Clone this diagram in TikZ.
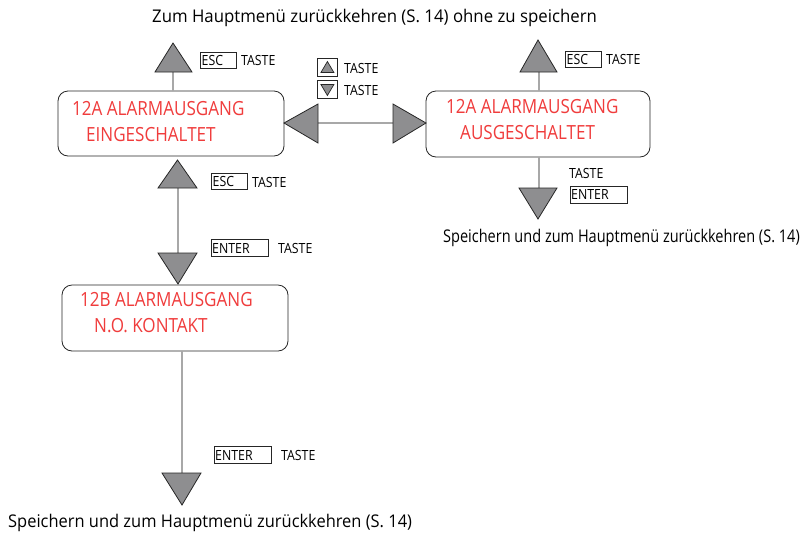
\documentclass[tikz,border=0pt]{standalone}
\usepackage{fontspec}
\usetikzlibrary{calc}
\setmainfont{Open Sans}
\newfontfamily\notefont{Open Sans}[FakeStretch=0.94]
\newfontfamily\headfont{Open Sans}[FakeStretch=0.96]
\newfontfamily\sidefont{Open Sans}[FakeStretch=0.83]
\newfontfamily\screenfont{Open Sans}[FakeStretch=0.875]
\newfontfamily\keyfont{Open Sans}[FakeStretch=0.88]
\definecolor{screenred}{HTML}{F03C3C}
\definecolor{arrowgray}{HTML}{8E8E90}
\definecolor{linegray}{HTML}{A8A8A8}
\tikzset{
  screen/.style={draw=black!85, line width=0.8pt, rounded corners=10pt, fill=white},
  tri/.style={draw=black!85, fill=arrowgray, line width=0.8pt, line join=miter},
  stem/.style={draw=linegray, line width=1.2pt},
  keybox/.style={draw=black!85, line width=0.8pt, inner sep=0pt, anchor=west},
  keytxt/.style={font=\keyfont\fontsize{14}{16}\selectfont, inner sep=0pt, anchor=west},
  redtxt/.style={font=\screenfont\fontsize{19.5}{22}\selectfont, text=screenred, inner sep=0pt, anchor=west},
  note/.style={font=\notefont\fontsize{17.5}{20}\selectfont, inner sep=0pt},
}
\begin{document}
\begin{tikzpicture}[x=1pt,y=-1pt]
\useasboundingbox (0,0) rectangle (803,539);

% top caption
\node[note, font=\headfont\fontsize{17.5}{20}\selectfont, anchor=west] (top) at (152,18) {Zum Hauptmenü zurückkehren (S. 14) ohne zu speichern};

% ---------- screen 12A eingeschaltet ----------
\draw[screen] (58,91) rectangle (284,156);
\node[redtxt] (a1) at (72,109) {12A ALARMAUSGANG};
\node[redtxt] (a2) at (86,135) {EINGESCHALTET};
\coordinate (aN) at (173,91);
\coordinate (aE) at (284,123);
\coordinate (aS) at (178,156);

% ---------- screen 12A ausgeschaltet ----------
\draw[screen] (426,91) rectangle (650,157);
\node[redtxt] (b1) at (446,107) {12A ALARMAUSGANG};
\node[redtxt] (b2) at (460,133) {AUSGESCHALTET};
\coordinate (bN) at (539,91);
\coordinate (bW) at (426,123);
\coordinate (bS) at (539,157);

% ---------- screen 12B ----------
\draw[screen] (62,285) rectangle (288,351);
\node[redtxt] (c1) at (80,300) {12B ALARMAUSGANG};
\node[redtxt] (c2) at (94,326) {N.O. KONTAKT};
\coordinate (cN) at (178,285);
\coordinate (cS) at (182,351);

% ---------- ESC up from 12A ein ----------
\draw[stem] (aN) -- (173,72);
\draw[tri] (155,72) -- (173,43) -- (192,72) -- cycle;
\node[keybox, minimum width=36pt, minimum height=16pt] (k1) at (200,60) {};
\node[keytxt] at (k1.west) {\hspace{1.5pt}ESC};
\node[keytxt] at (241,60) {TASTE};

% ---------- ESC up from 12A aus ----------
\draw[stem] (bN) -- (539,72);
\draw[tri] (520,72) -- (538,40) -- (557,72) -- cycle;
\node[keybox, minimum width=36pt, minimum height=16pt] (k2) at (565,59.5) {};
\node[keytxt] at (k2.west) {\hspace{1.5pt}ESC};
\node[keytxt] at (606,59.5) {TASTE};

% ---------- left / right toggle ----------
\draw[stem] (318,123) -- (393,123);
\draw[tri] (aE) -- (318,104) -- (318,143) -- cycle;
\draw[tri] (bW) -- (393,104) -- (393,143) -- cycle;
\node[keybox, minimum width=20pt, minimum height=18pt] (kup) at (317,67.5) {};
\draw[tri, line width=0.7pt] ($(kup.center)+(-6.5,5)$) -- ($(kup.center)+(0,-6)$) -- ($(kup.center)+(6.5,5)$) -- cycle;
\node[keytxt] at (344,68) {TASTE};
\node[keybox, minimum width=20pt, minimum height=18pt] (kdn) at (317,89.5) {};
\draw[tri, line width=0.7pt] ($(kdn.center)+(-6.5,-5)$) -- ($(kdn.center)+(0,6)$) -- ($(kdn.center)+(6.5,-5)$) -- cycle;
\node[keytxt] at (344,90) {TASTE};

% ---------- ENTER down from 12A aus ----------
\draw[stem] (bS) -- (539,188);
\draw[tri] (519,188) -- (538,219) -- (557,188) -- cycle;
\node[keytxt] at (569,173) {TASTE};
\node[keybox, minimum width=57pt, minimum height=17pt] (k3) at (570,194.5) {};
\node[keytxt] at (k3.west) {\hspace{1pt}ENTER};
\node[note, font=\sidefont\fontsize{17.5}{20}\selectfont, anchor=west] (rb) at (443,238) {Speichern und zum Hauptmenü zurückkehren (S. 14)};

% ---------- ESC up / ENTER down between 12A ein and 12B ----------
\draw[stem] (178,188) -- (178,253);
\draw[tri] (158,188) -- (177.5,160) -- (197,188) -- cycle;
\draw[tri] (158,253) -- (178,284) -- (197,253) -- cycle;
\node[keybox, minimum width=36pt, minimum height=16pt] (k4) at (211,181) {};
\node[keytxt] at (k4.west) {\hspace{1.5pt}ESC};
\node[keytxt] at (252,182) {TASTE};
\node[keybox, minimum width=57pt, minimum height=17pt] (k5) at (211,248) {};
\node[keytxt] at (k5.west) {\hspace{1pt}ENTER};
\node[keytxt] at (278,248) {TASTE};

% ---------- ENTER down from 12B ----------
\draw[stem] (cS) -- (182,473);
\draw[tri] (162,473) -- (182,505) -- (201,473) -- cycle;
\node[keybox, minimum width=57pt, minimum height=17pt] (k6) at (214,455) {};
\node[keytxt] at (k6.west) {\hspace{1pt}ENTER};
\node[keytxt] at (281,455) {TASTE};
\node[note, anchor=west] (lb) at (8,523) {Speichern und zum Hauptmenü zurückkehren (S. 14)};
\end{tikzpicture}
\end{document}
